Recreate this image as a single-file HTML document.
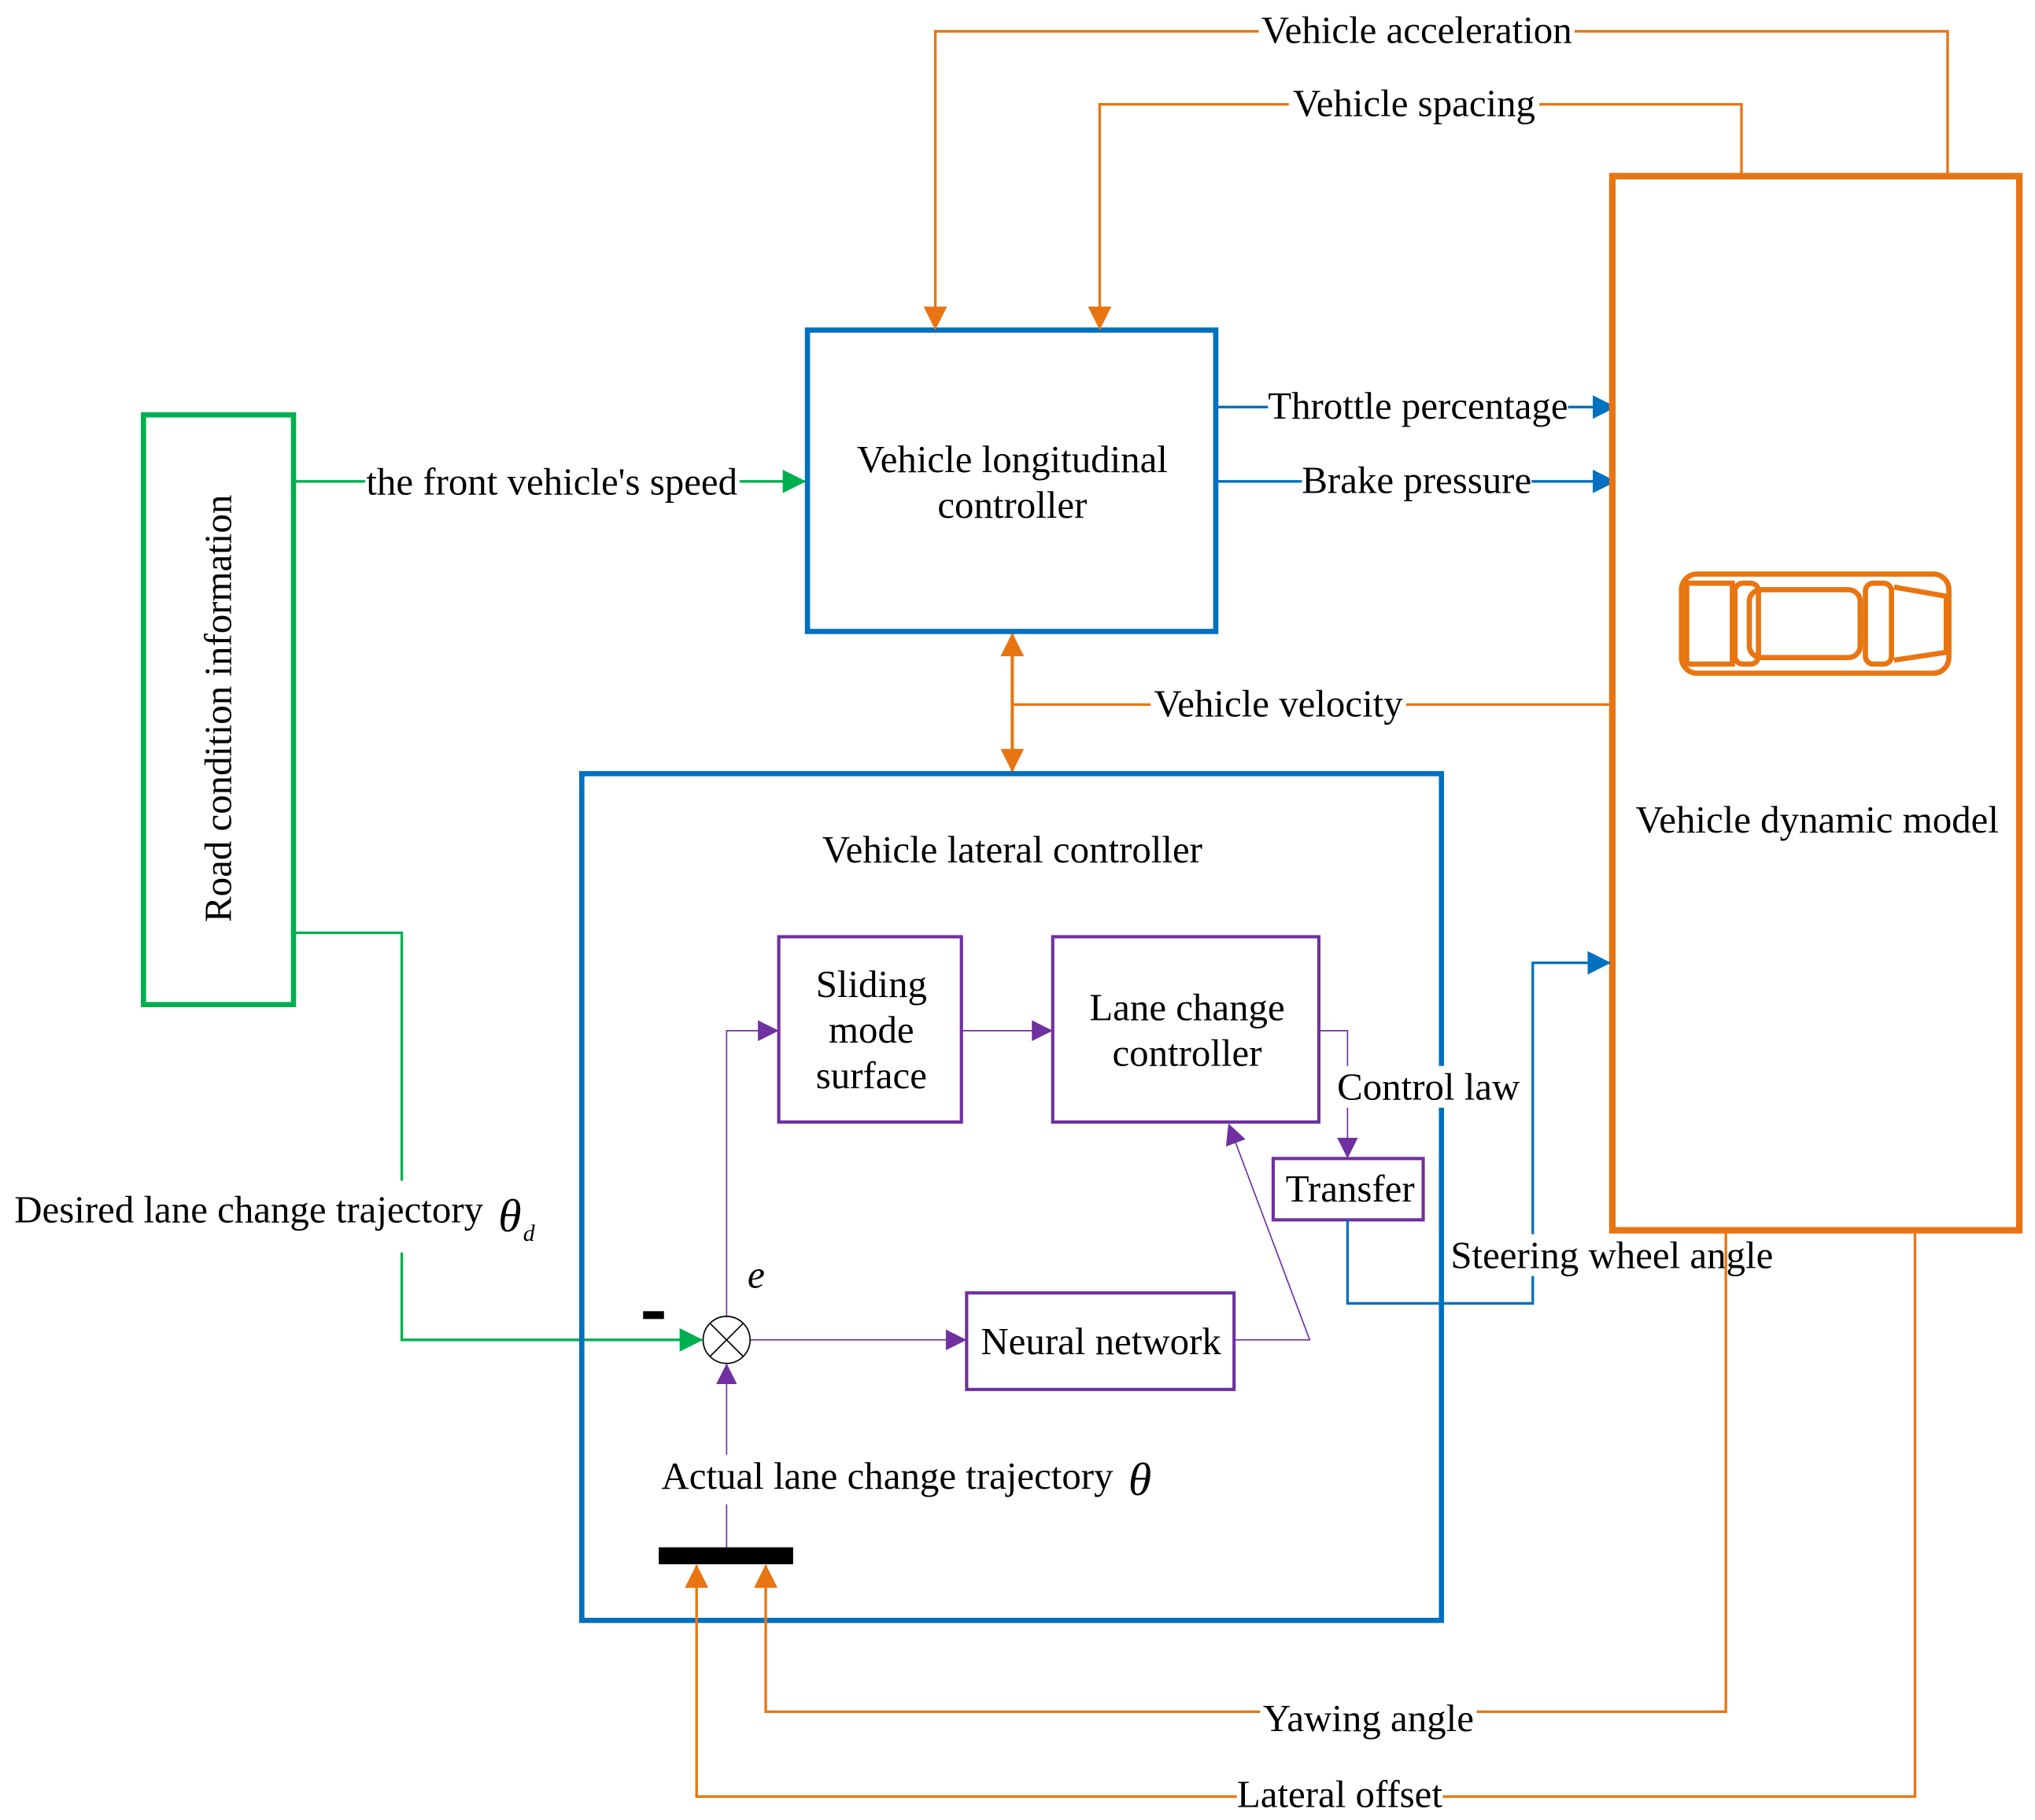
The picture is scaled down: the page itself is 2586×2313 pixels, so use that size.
<!DOCTYPE html>
<html><head><meta charset="utf-8"><style>
html,body{margin:0;padding:0;background:#fff;}
svg{display:block;}
text{font-family:"Liberation Serif",serif;font-size:29.5px;fill:#000;}
</style></head><body>
<svg width="2586" height="2313" viewBox="0 0 1560 1395" preserveAspectRatio="none" xmlns="http://www.w3.org/2000/svg">
<defs>
<marker id="aos" markerWidth="18" markerHeight="18" refX="17" refY="9" orient="auto" markerUnits="userSpaceOnUse" viewBox="0 0 18 18"><path d="M0,0 L18,9 L0,18z" fill="#e87511"/></marker>
<marker id="ab" markerWidth="18" markerHeight="18" refX="17" refY="9" orient="auto" markerUnits="userSpaceOnUse" viewBox="0 0 18 18"><path d="M0,0 L18,9 L0,18z" fill="#0070c0"/></marker>
<marker id="ag" markerWidth="18" markerHeight="18" refX="17" refY="9" orient="auto" markerUnits="userSpaceOnUse" viewBox="0 0 18 18"><path d="M0,0 L18,9 L0,18z" fill="#00b050"/></marker>
<marker id="ap" markerWidth="16" markerHeight="16" refX="15" refY="8" orient="auto" markerUnits="userSpaceOnUse" viewBox="0 0 16 16"><path d="M0,0 L16,8 L0,16z" fill="#7030a0"/></marker>
<marker id="aost" markerWidth="18" markerHeight="18" refX="1" refY="9" orient="auto" markerUnits="userSpaceOnUse" viewBox="0 0 18 18"><path d="M18,0 L0,9 L18,18z" fill="#e87511"/></marker>
</defs>

<!-- Road condition -->
<rect x="110" y="318" width="115" height="452" fill="none" stroke="#00b050" stroke-width="4"/>
<text transform="translate(177,543) rotate(-90)" text-anchor="middle">Road condition information</text>
<line x1="225" y1="369" x2="617" y2="369" stroke="#00b050" stroke-width="2" marker-end="url(#ag)"/>
<rect x="280" y="355" width="287" height="28" fill="#fff"/>
<text x="423" y="379" text-anchor="middle">the front vehicle's speed</text>
<polyline points="225,715 308,715 308,1027 538,1027" fill="none" stroke="#00b050" stroke-width="2" marker-end="url(#ag)"/>
<rect x="8" y="905" width="408" height="55" fill="#fff"/>
<text x="11" y="937">Desired lane change trajectory</text>
<text x="382" y="944" font-style="italic" style="font-size:36px">θ</text>
<text x="401" y="951" font-style="italic" style="font-size:18px">d</text>

<!-- Longitudinal controller -->
<rect x="619" y="253" width="313" height="231" fill="none" stroke="#0070c0" stroke-width="4"/>
<text x="776" y="362" text-anchor="middle">Vehicle longitudinal</text>
<text x="776" y="397" text-anchor="middle">controller</text>

<!-- top orange feedback -->
<polyline points="1493,134 1493,24 717,24 717,252" fill="none" stroke="#e87511" stroke-width="2" marker-end="url(#aos)"/>
<rect x="965" y="8" width="242" height="32" fill="#fff"/>
<text x="1086" y="33" text-anchor="middle">Vehicle acceleration</text>
<polyline points="1335,134 1335,80 843,80 843,252" fill="none" stroke="#e87511" stroke-width="2" marker-end="url(#aos)"/>
<rect x="988" y="64" width="192" height="32" fill="#fff"/>
<text x="1084" y="89" text-anchor="middle">Vehicle spacing</text>

<!-- blue outputs -->
<line x1="932" y1="312" x2="1238" y2="312" stroke="#0070c0" stroke-width="2" marker-end="url(#ab)"/>
<rect x="972" y="296" width="230" height="32" fill="#fff"/>
<text x="1087" y="321" text-anchor="middle">Throttle percentage</text>
<line x1="932" y1="369" x2="1238" y2="369" stroke="#0070c0" stroke-width="2" marker-end="url(#ab)"/>
<rect x="998" y="353" width="176" height="32" fill="#fff"/>
<text x="1086" y="378" text-anchor="middle">Brake pressure</text>

<!-- Dynamic model -->
<rect x="1236" y="135" width="312" height="808" fill="none" stroke="#e87511" stroke-width="5"/>
<text x="1393" y="638" text-anchor="middle">Vehicle dynamic model</text>
<g fill="none" stroke="#e87511" stroke-width="4">
<rect x="1289" y="440" width="205" height="76" rx="12"/>
<rect x="1293" y="447" width="35" height="62"/>
<rect x="1330" y="447" width="18" height="62" rx="6"/>
<rect x="1341" y="452" width="85" height="52" rx="9"/>
<rect x="1430" y="447" width="20" height="62" rx="6"/>
<path d="M1452,450 L1492,457 M1452,506 L1492,500 M1492,455 L1492,502"/>
</g>

<!-- velocity -->
<line x1="1236" y1="540" x2="776" y2="540" stroke="#e87511" stroke-width="2"/>
<line x1="776" y1="486" x2="776" y2="591" stroke="#e87511" stroke-width="2.5" marker-start="url(#aost)" marker-end="url(#aos)"/>
<rect x="882" y="524" width="196" height="32" fill="#fff"/>
<text x="980" y="549" text-anchor="middle">Vehicle velocity</text>

<!-- Lateral controller -->
<rect x="446" y="593" width="659" height="649" fill="none" stroke="#0070c0" stroke-width="4"/>
<text x="776" y="661" text-anchor="middle">Vehicle lateral controller</text>

<g fill="none" stroke="#7030a0">
<rect x="597" y="718" width="140" height="142" stroke-width="2.5"/>
<rect x="807" y="718" width="204" height="142" stroke-width="2.5"/>
<rect x="976" y="888" width="115" height="47" stroke-width="2.5"/>
<rect x="741" y="991" width="205" height="74" stroke-width="2.5"/>
<line x1="737" y1="790" x2="806" y2="790" stroke-width="1" marker-end="url(#ap)"/>
<polyline points="557,1009 557,790 596,790" stroke-width="1" marker-end="url(#ap)"/>
<polyline points="1011,790 1033,790 1033,887" stroke-width="1" marker-end="url(#ap)"/>
<line x1="575" y1="1027" x2="740" y2="1027" stroke-width="1" marker-end="url(#ap)"/>
<polyline points="946,1027 1004,1027 942,862" stroke-width="1" marker-end="url(#ap)"/>
<line x1="557" y1="1186" x2="557" y2="1046" stroke-width="1" marker-end="url(#ap)"/>
</g>
<text x="668" y="764" text-anchor="middle">Sliding</text>
<text x="668" y="799" text-anchor="middle">mode</text>
<text x="668" y="834" text-anchor="middle">surface</text>
<text x="910" y="782" text-anchor="middle">Lane change</text>
<text x="910" y="817" text-anchor="middle">controller</text>
<rect x="1022" y="817" width="144" height="32" fill="#fff"/>
<text x="1025" y="843">Control law</text>
<text x="1035" y="921" text-anchor="middle">Transfer</text>
<text x="844" y="1038" text-anchor="middle">Neural network</text>

<!-- summing junction -->
<ellipse cx="557" cy="1027" rx="18" ry="18" fill="#fff" stroke="#000" stroke-width="1"/>
<line x1="544" y1="1014" x2="570" y2="1040" stroke="#000" stroke-width="1"/>
<line x1="570" y1="1014" x2="544" y2="1040" stroke="#000" stroke-width="1"/>
<text x="573" y="987" font-style="italic" style="font-size:30px">e</text>
<rect x="493" y="1005" width="16" height="6" fill="#000"/>

<!-- steering -->
<polyline points="1033,935 1033,999 1175,999 1175,738 1234,738" fill="none" stroke="#0070c0" stroke-width="2" marker-end="url(#ab)"/>
<rect x="1110" y="946" width="250" height="32" fill="#fff"/>
<text x="1112" y="972">Steering wheel angle</text>

<!-- actual -->
<rect x="505" y="1115" width="385" height="38" fill="#fff"/>
<text x="507" y="1141">Actual lane change trajectory</text>
<text x="865" y="1146" font-style="italic" style="font-size:36px">θ</text>
<rect x="505" y="1186" width="103" height="13" fill="#000"/>

<!-- bottom feedback -->
<polyline points="1323,943 1323,1312 587,1312 587,1200" fill="none" stroke="#e87511" stroke-width="2" marker-end="url(#aos)"/>
<rect x="966" y="1296" width="166" height="32" fill="#fff"/>
<text x="1049" y="1327" text-anchor="middle">Yawing angle</text>
<polyline points="1468,943 1468,1377 534,1377 534,1200" fill="none" stroke="#e87511" stroke-width="2" marker-end="url(#aos)"/>
<rect x="948" y="1361" width="158" height="32" fill="#fff"/>
<text x="1027" y="1385" text-anchor="middle">Lateral offset</text>
</svg>
</body></html>
